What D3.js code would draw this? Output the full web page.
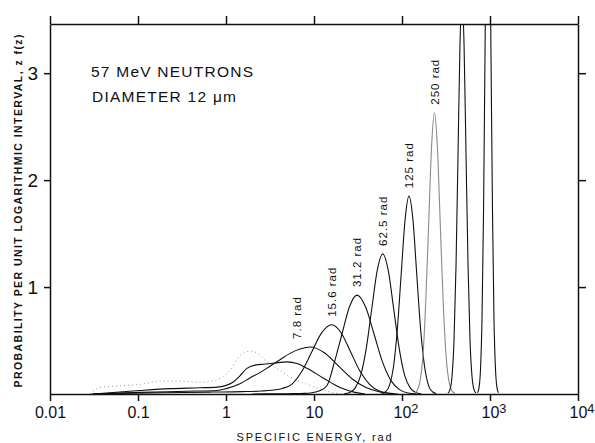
<!DOCTYPE html>
<html>
<head>
<meta charset="utf-8">
<script src="https://cdn.jsdelivr.net/npm/d3@7"></script>
<style>
  body { margin: 0; background: #fff; }
  svg { display: block; font-family: "Liberation Sans", "DejaVu Sans", sans-serif; }
  .axis path, .axis line { stroke: #111; stroke-width: 1.5; }
  .curve { fill: none; stroke: #111; stroke-width: 1.1; }
</style>
</head>
<body>
<svg></svg>
<script>
// tick values and labels
const xTicks = [0.01, 0.1, 1, 10, 100, 1000, 10000];
const xTickBase = ["0.01", "0.1", "1", "10", "10", "10", "10"];
const xTickExp = ["", "", "", "", "2", "3", "4"];
const yTicks = [1, 2, 3];

// [specific energy z (rad), z f(z)]
const singleEvent = [[0.0285, 0], [0.037, 0.06], [0.0577, 0.075], [0.105, 0.09], [0.178, 0.12], [0.30, 0.12],
  [0.506, 0.11], [0.75, 0.13], [1.11, 0.22], [1.44, 0.36], [1.87, 0.40], [2.31, 0.38], [2.92, 0.30],
  [4.11, 0.22], [5.34, 0.16], [9.0, 0.08], [15.2, 0.02], [19.7, 0]];
const dose3_9 = [[0.0308, 0], [0.105, 0.033], [0.231, 0.05], [0.506, 0.058], [0.79, 0.064], [1.20, 0.11],
  [1.44, 0.17], [1.73, 0.24], [2.14, 0.27], [2.78, 0.28], [3.60, 0.29], [4.93, 0.30], [6.41, 0.285],
  [8.33, 0.24], [12.7, 0.15], [19.8, 0.06], [29.2, 0.015], [38, 0]];
const dose7_8 = [[0.0308, 0], [0.105, 0.015], [0.36, 0.026], [0.79, 0.033], [1.0, 0.05], [1.44, 0.095],
  [1.87, 0.15], [2.43, 0.2], [3.16, 0.26], [4.11, 0.32], [5.34, 0.38], [6.93, 0.42], [9.0, 0.44],
  [13.0, 0.388], [18.7, 0.267], [27.0, 0.143], [39.0, 0.06], [56.2, 0.019], [81, 0.004]];
const dose15_6 = [[0.0298, 0], [0.0847, 0.008], [0.314, 0.014], [0.688, 0.018], [1.51, 0.022], [2.54, 0.028],
  [3.31, 0.035], [4.29, 0.05], [5.58, 0.09], [7.25, 0.21], [9.42, 0.392], [12.2, 0.571], [15.9, 0.647],
  [20.4, 0.571], [26.1, 0.392], [33.5, 0.21], [43.0, 0.088], [55.1, 0.028], [70.6, 0.007], [90, 0]];
const dose31_2 = [[2.0, 0], [5.0, 0.003], [7.8, 0.006], [9.5, 0.012], [11.55, 0.03], [14.06, 0.08], [17.1, 0.30],
  [20.8, 0.561], [25.3, 0.816], [30.8, 0.925], [38.5, 0.816], [48.1, 0.561], [60.0, 0.30], [75.0, 0.125],
  [93.7, 0.041], [117, 0.01], [146, 0.002]];
const dose62_5 = [[22.1, 0.003], [25.5, 0.0145], [29.4, 0.0575], [34.0, 0.177], [39.2, 0.425], [45.3, 0.795],
  [52.3, 1.156], [60.4, 1.31], [69.8, 1.156], [80.5, 0.795], [93.0, 0.425], [107, 0.177], [124, 0.0575],
  [143, 0.0145], [165, 0.003]];
const dose125 = [[58.8, 0.004], [65.1, 0.021], [72.1, 0.081], [79.9, 0.25], [88.4, 0.60], [97.9, 1.122],
  [108.5, 1.633], [120, 1.85], [133, 1.633], [147, 1.122], [163, 0.60], [181, 0.25], [200, 0.081],
  [222, 0.021], [245, 0.004]];
const dose250 = [[138, 0.006], [148, 0.029], [160, 0.115], [173, 0.356], [186, 0.854], [201, 1.595],
  [217, 2.321], [234, 2.63], [252, 2.321], [272, 1.595], [294, 0.854], [317, 0.356], [342, 0.115],
  [369, 0.029], [398, 0.006]];
const dose500 = [[333, 0.008], [351, 0.041], [370, 0.162], [390, 0.50], [411, 1.20], [433, 2.24], [456, 3.27],
  [481, 3.7], [507, 3.27], [534, 2.24], [563, 1.20], [593, 0.50], [625, 0.162], [658, 0.041], [694, 0.008]];
const dose1000 = [[721, 0.011], [750, 0.058], [780, 0.23], [811, 0.70], [844, 1.69], [877, 3.15], [912, 4.59],
  [949, 5.2], [987, 4.59], [1027, 3.15], [1068, 1.69], [1110, 0.70], [1155, 0.23], [1201, 0.058], [1249, 0.011]];

const curves = [dose3_9, dose7_8, dose15_6, dose31_2, dose62_5, dose125, dose250, dose500, dose1000];
const curveLabels = ["", "7.8 rad", "15.6 rad", "31.2 rad", "62.5 rad", "125 rad", "250 rad", "", ""];

const W = 595, H = 443;
const mLeft = 50, mRight = 578, mTop = 24, mBottom = 394;

const svg = d3.select("svg").attr("width", W).attr("height", H);

const x = d3.scaleLog().domain([0.01, 10000]).range([mLeft, mRight]);
const y = d3.scaleLinear().domain([0, 3.46]).range([mBottom, mTop]);

svg.append("clipPath").attr("id", "plot")
  .append("rect").attr("x", mLeft).attr("y", mTop).attr("width", mRight - mLeft).attr("height", mBottom - mTop + 1);

const line = d3.line()
  .x(d => x(d[0]))
  .y(d => y(d[1]))
  .curve(d3.curveMonotoneX);

const plot = svg.append("g").attr("clip-path", "url(#plot)");

// single-event spectrum, faint dotted
plot.append("path")
  .datum(singleEvent)
  .attr("class", "curve")
  .style("stroke", "#999")
  .style("stroke-width", 1)
  .attr("stroke-dasharray", "1 3")
  .attr("d", line);

plot.selectAll(".dose")
  .data(curves)
  .enter().append("path")
  .attr("class", "curve dose")
  .style("stroke", (d, i) => i === 6 ? "#8a8a8a" : "#111")
  .attr("d", line);

// axes
const fontTicks = 16;

svg.append("g")
  .attr("class", "axis")
  .attr("transform", `translate(0,${mBottom})`)
  .call(d3.axisBottom(x).tickValues(xTicks).tickSize(7).tickSizeOuter(0).tickPadding(6)
    .tickFormat((d, i) => xTickBase[i]))
  .call(g => g.selectAll(".tick text")
    .attr("font-size", fontTicks)
    .attr("font-family", "Liberation Sans, sans-serif")
    .attr("fill", "#111")
    .each(function(d, i) {
      if (xTickExp[i]) {
        d3.select(this).attr("text-anchor", "start").attr("dx", "-0.56em")
          .append("tspan").attr("dy", "-0.45em").attr("font-size", "0.8em").text(xTickExp[i]);
      }
    }));

svg.append("g")
  .attr("class", "axis")
  .attr("transform", `translate(0,${mTop})`)
  .call(d3.axisTop(x).tickValues(xTicks).tickSize(8).tickSizeOuter(0).tickFormat(""));

svg.append("g")
  .attr("class", "axis")
  .attr("transform", `translate(${mLeft},0)`)
  .call(d3.axisLeft(y).tickValues(yTicks).tickSize(6).tickSizeOuter(0).tickPadding(6).tickFormat(d3.format("d")))
  .call(g => g.selectAll(".tick text")
    .attr("font-size", 19)
    .attr("font-family", "Liberation Sans, sans-serif")
    .attr("fill", "#111"));

svg.append("g")
  .attr("class", "axis")
  .attr("transform", `translate(${mRight},0)`)
  .call(d3.axisRight(y).tickValues(yTicks).tickSize(8).tickSizeOuter(0).tickFormat(""));

// curve labels, set vertically above each peak
curves.forEach((c, i) => {
  if (!curveLabels[i]) return;
  const peak = d3.greatest(c, d => d[1]);
  const px = x(peak[0]) + (i === 1 ? -13 : 0);
  const py = y(peak[1]) - 8;
  svg.append("text")
    .attr("transform", `translate(${px},${py}) rotate(-90)`)
    .attr("dy", "0.35em")
    .attr("font-size", 11.5)
    .attr("letter-spacing", 1)
    .attr("fill", "#111")
    .text(curveLabels[i]);
});

// annotations
svg.append("text")
  .attr("x", 91).attr("y", 77)
  .attr("font-size", 15.5)
  .attr("textLength", 162).attr("lengthAdjust", "spacing")
  .attr("fill", "#111")
  .text("57 MeV NEUTRONS");

svg.append("text")
  .attr("x", 92).attr("y", 102)
  .attr("font-size", 15.5)
  .attr("textLength", 144).attr("lengthAdjust", "spacing")
  .attr("fill", "#111")
  .text("DIAMETER 12 \u03bcm");

svg.append("text")
  .attr("transform", `translate(22,211) rotate(-90)`)
  .attr("text-anchor", "middle")
  .attr("font-size", 10.5)
  .attr("font-weight", "bold")
  .attr("textLength", 353).attr("lengthAdjust", "spacing")
  .attr("fill", "#111")
  .text("PROBABILITY PER UNIT LOGARITHMIC INTERVAL, z f(z)");

svg.append("text")
  .attr("x", 314).attr("y", 441)
  .attr("text-anchor", "middle")
  .attr("font-size", 11)
  .attr("textLength", 155).attr("lengthAdjust", "spacing")
  .attr("fill", "#111")
  .text("SPECIFIC ENERGY, rad");
</script>
</body>
</html>
